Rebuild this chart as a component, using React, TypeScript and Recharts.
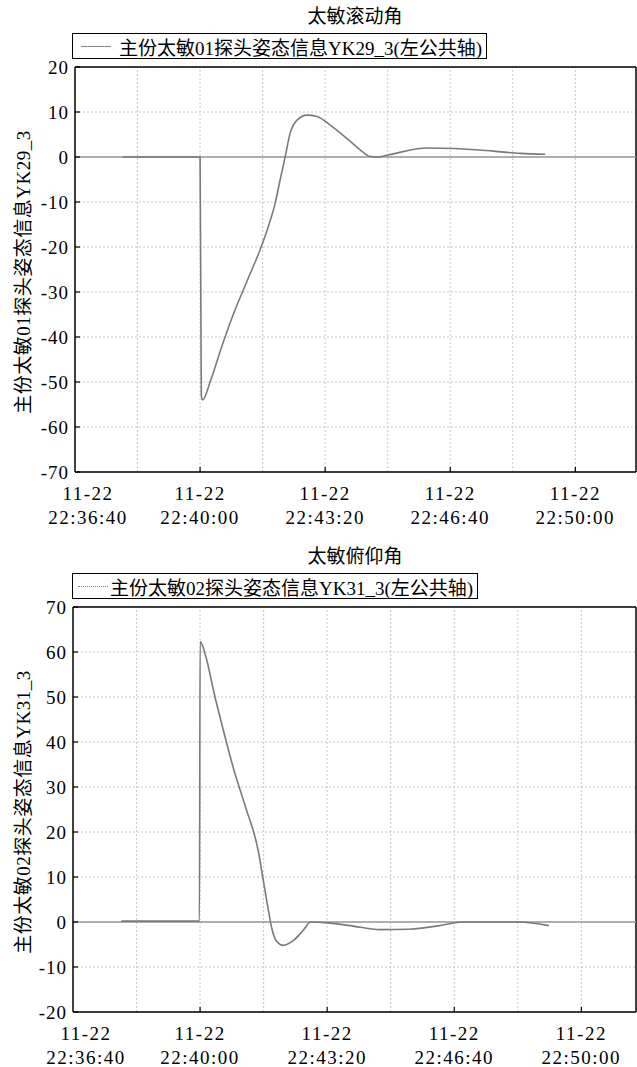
import { LineChart, Line, XAxis, YAxis, CartesianGrid, ReferenceLine } from 'recharts'

const FONT = "'Liberation Serif', 'Noto Sans CJK SC', serif"

// x values are seconds after 11-22 22:36:40
const tickTimes = [0, 200, 400, 600, 800]
const tickDates = ['11-22', '11-22', '11-22', '11-22', '11-22']
const tickClock = ['22:36:40', '22:40:00', '22:43:20', '22:46:40', '22:50:00']
const gridTimes = [100, 200, 300, 400, 500, 600, 700, 800]

const rollTicks = [-70, -60, -50, -40, -30, -20, -10, 0, 10, 20]
const pitchTicks = [-20, -10, 0, 10, 20, 30, 40, 50, 60, 70]

const rollTime = [76, 200, 202, 204, 216, 235, 253, 275, 296, 309, 320, 329, 336, 344, 355, 371, 387, 408, 435, 456, 472, 484, 499, 563, 605, 669, 712, 752]
const rollValue = [0, 0, -53, -54, -50, -42, -35, -27.6, -20.6, -15.5, -10.3, -4.4, 0, 5.3, 8.2, 9.3, 9.0, 7.1, 4.1, 1.6, 0.1, 0, 0.4, 2.0, 1.9, 1.3, 0.8, 0.6]

const pitchTime = [76, 199, 200, 209, 222, 235, 253, 271, 292, 300, 308, 313, 321, 331, 347, 362, 374, 400, 436, 483, 530, 577, 613, 666, 702, 749]
const pitchValue = [0.2, 0.2, 62.3, 59, 50.9, 43.5, 33.9, 25.8, 15.5, 8.8, 2.2, -1.5, -4.4, -5.2, -4.1, -1.9, 0, -0.2, -0.8, -1.7, -1.6, -0.8, 0, 0, 0, -0.8]

const rollData = rollTime.map((t, i) => ({ t, v: rollValue[i] }))
const pitchData = pitchTime.map((t, i) => ({ t, v: pitchValue[i] }))

const TimeTick = ({ x, y, payload }: any) => {
  const i = tickTimes.indexOf(payload.value)
  const tx = i === 0 ? x + 13 : x
  return (
    <g>
      {i > 0 && <line x1={x} x2={x} y1={y} y2={y - 5} stroke="#000" strokeWidth={1.2} />}
      <text x={tx} y={y} textAnchor="middle" fill="#000" fontSize={19} letterSpacing={1.5} fontFamily={FONT}>
        <tspan x={tx} dy={28}>{tickDates[i]}</tspan>
        <tspan x={tx} dy={24}>{tickClock[i]}</tspan>
      </text>
    </g>
  )
}

const ValueTick = ({ x, y, payload }: any) => (
  <g>
    <line x1={x} x2={x + 5} y1={y} y2={y} stroke="#000" strokeWidth={1.2} />
    <text x={x - 6} y={y} textAnchor="end" dominantBaseline="central" fill="#000" fontSize={19} letterSpacing={1} fontFamily={FONT}>
      {payload.value}
    </text>
  </g>
)

function Panel({ data, ticks, xMax, axisWidth, title, legend, axisLabel, dotted, top, height, marginTop, marginBottom, legendWidth }: any) {
  const yMin = ticks[0]
  const yMax = ticks[ticks.length - 1]
  return (
    <div style={{ position: 'absolute', left: 0, top, width: 637, height }}>
      <div style={{ position: 'absolute', left: 74, width: 562, top: marginTop - 61, textAlign: 'center', fontSize: 19, lineHeight: '22px', fontFamily: FONT }}>
        {title}
      </div>
      <div style={{ position: 'absolute', left: 72, top: marginTop - 34, width: legendWidth, height: 26, border: '1.5px solid #000', boxSizing: 'border-box', display: 'flex', alignItems: 'center', fontFamily: FONT, fontSize: 19, whiteSpace: 'nowrap' }}>
        <div style={{ width: 30, marginLeft: dotted ? 5 : 8, marginRight: dotted ? 2 : 8, borderTop: dotted ? '1.5px dotted #888' : '1.5px solid #888' }} />
        {legend}
      </div>
      <div style={{ position: 'absolute', left: 21, top: marginTop + 205, transform: 'translate(-50%, -50%) rotate(-90deg)', whiteSpace: 'nowrap', fontFamily: FONT, fontSize: 19, letterSpacing: 0.5 }}>
        {axisLabel}
      </div>
      <LineChart width={637} height={height} data={data} margin={{ top: marginTop, right: 1, bottom: marginBottom, left: 0 }}>
        <CartesianGrid vertical={false} stroke="#c8c8c8" strokeDasharray="2 2" />
        {gridTimes.map((g) => (
          <ReferenceLine key={g} x={g} stroke="#c8c8c8" strokeDasharray="2 2" />
        ))}
        <XAxis
          dataKey="t"
          type="number"
          domain={[0, xMax]}
          ticks={tickTimes}
          allowDataOverflow
          height={50}
          tickSize={0}
          tickMargin={0}
          tickLine={false}
          tick={<TimeTick />}
          axisLine={{ stroke: '#000', strokeWidth: 1.5 }}
        />
        <YAxis
          type="number"
          domain={[yMin, yMax]}
          ticks={ticks}
          width={axisWidth}
          tickSize={0}
          tickMargin={0}
          tickLine={false}
          tick={<ValueTick />}
          axisLine={{ stroke: '#000', strokeWidth: 1.5 }}
        />
        <ReferenceLine y={yMax} stroke="#000" strokeWidth={1.5} />
        <ReferenceLine x={xMax} stroke="#000" strokeWidth={1.5} />
        <ReferenceLine y={0} stroke="#999" strokeWidth={1.5} />
        <Line type="monotone" dataKey="v" stroke="#7a7a7a" strokeWidth={1.6} dot={false} isAnimationActive={false} />
      </LineChart>
    </div>
  )
}

export default function App() {
  return (
    <div style={{ position: 'absolute', left: 0, top: 0, width: 637, height: 1067, background: '#fff' }}>
      <Panel
        data={rollData}
        ticks={rollTicks}
        xMax={897}
        axisWidth={75}
        title="太敏滚动角"
        legend="主份太敏01探头姿态信息YK29_3(左公共轴)"
        axisLabel="主份太敏01探头姿态信息YK29_3"
        dotted={false}
        top={0}
        height={530}
        marginTop={67}
        marginBottom={8}
        legendWidth={415}
      />
      <Panel
        data={pitchData}
        ticks={pitchTicks}
        xMax={886}
        axisWidth={73}
        title="太敏俯仰角"
        legend="主份太敏02探头姿态信息YK31_3(左公共轴)"
        axisLabel="主份太敏02探头姿态信息YK31_3"
        dotted={true}
        top={535}
        height={532}
        marginTop={72}
        marginBottom={5}
        legendWidth={406}
      />
    </div>
  )
}
